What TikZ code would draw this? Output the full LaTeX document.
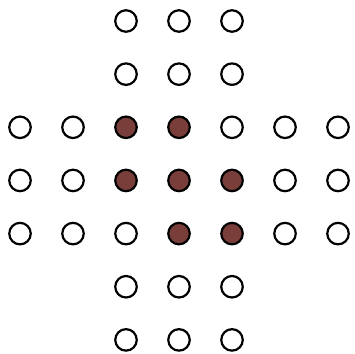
\documentclass[tikz,border=0pt]{standalone}
\usepackage{tikz}
\definecolor{pegBrown}{RGB}{122,62,58}
\tikzset{
  hole/.style={circle, draw=black, line width=2.2pt, fill=white, minimum size=21.5pt, inner sep=0pt},
  peg/.style={hole, fill=pegBrown}
}
\begin{document}
\begin{tikzpicture}[x=1pt, y=-1pt]
        \useasboundingbox (0,0) rectangle (355,353);
        \foreach \c in {0,...,6}{
          \foreach \r in {0,...,6}{
            \pgfmathtruncatemacro{\incross}{or(and(\c>1,\c<5),and(\r>1,\r<5))}
            \pgfmathtruncatemacro{\haspeg}{and(and(abs(\c-3)<2,abs(\r-3)<2),abs(\c-\r)<2)}
            \ifnum\incross=1
              \ifnum\haspeg=1
                \node[peg] (h\c\r) at (20+53*\c, 21+53.15*\r) {};
              \else
                \node[hole] (h\c\r) at (20+53*\c, 21+53.15*\r) {};
              \fi
            \fi
          }
        }
      \end{tikzpicture}
\end{document}
